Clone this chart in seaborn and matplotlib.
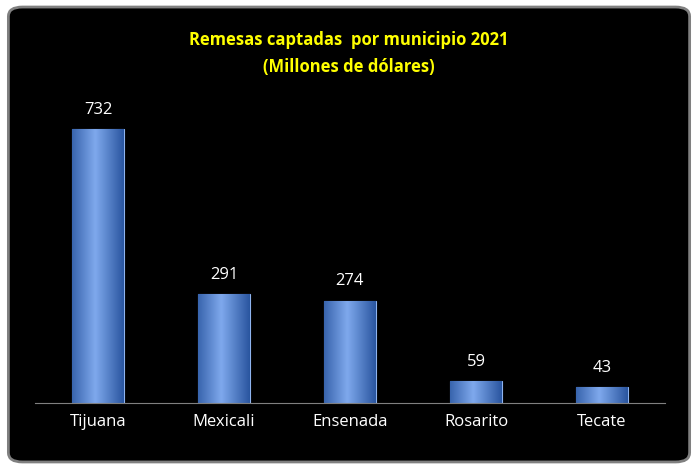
import matplotlib
matplotlib.use("Agg")
import matplotlib.pyplot as plt
import numpy as np
import pandas as pd
import seaborn as sns
from matplotlib.patches import FancyBboxPatch

municipios = ["Tijuana", "Mexicali", "Ensenada", "Rosarito", "Tecate"]
remesas = [732, 291, 274, 59, 43]

df = pd.DataFrame({"municipio": municipios, "remesas": remesas})

fig = plt.figure(figsize=(6.98, 4.69), dpi=100, facecolor="white")
frame = FancyBboxPatch((0.012, 0.015), 0.976, 0.97, boxstyle="round,pad=0,rounding_size=0.02",
                       transform=fig.transFigure, facecolor="black", edgecolor="#808080", lw=2,
                       zorder=-10)
fig.patches.append(frame)

ax = fig.add_axes([35 / 698, 1 - 403 / 469, 630 / 698, 313 / 469])
ax.set_zorder(5)
ax.set_facecolor("none")
sns.barplot(data=df, x="municipio", y="remesas", color="#4f81d0", width=0.41,
            saturation=1, ax=ax, edgecolor="#8fb4ef", linewidth=0.8)

# horizontal shading gradient on each bar
grad = np.linspace(0, 1, 64)
grad = 1 - np.abs(grad - 0.45) * 1.4
cmap = matplotlib.colors.LinearSegmentedColormap.from_list("b", ["#2a56a0", "#7ea8ec"])
for bar in list(ax.patches):
    x0, y0 = bar.get_x(), bar.get_y()
    w, h = bar.get_width(), bar.get_height()
    im = ax.imshow(grad[None, :], extent=[x0, x0 + w, y0, y0 + h], aspect="auto",
                   cmap=cmap, zorder=bar.get_zorder() + 0.1)
    im.set_clip_path(bar)
    ax.text(x0 + w / 2, h + 30, f"{int(h)}", ha="center", va="bottom",
            color="white", fontsize=12, family="Open Sans")

ax.set_xlim(-0.5, 4.5)
ax.set_ylim(0, 837)
ax.set_xlabel("")
ax.set_ylabel("")
ax.set_yticks([])
for s in ["top", "right", "left"]:
    ax.spines[s].set_visible(False)
ax.spines["bottom"].set_color("#808080")
ax.tick_params(axis="x", length=0, colors="white", labelsize=12, pad=8)
for lbl in ax.get_xticklabels():
    lbl.set_family("Open Sans")

fig.text(0.5, 1 - 40 / 469, "Remesas captadas  por municipio 2021", ha="center", va="center",
         color="#ffff00", fontsize=12, fontweight="bold", family="Open Sans")
fig.text(0.5, 1 - 67 / 469, "(Millones de dólares)", ha="center", va="center",
         color="#ffff00", fontsize=12, fontweight="bold", family="Open Sans")

fig.savefig("out.png", dpi=100, facecolor="white")
